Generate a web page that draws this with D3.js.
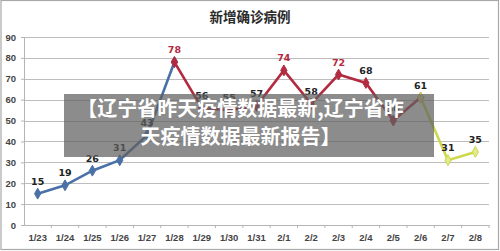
<!DOCTYPE html>
<html>
<head>
<meta charset="utf-8">
<script src="https://cdn.jsdelivr.net/npm/d3@7"></script>
<style>
  body { margin: 0; background: #fff; }
  svg { display: block; font-family: "DejaVu Sans", "Noto Sans CJK SC", sans-serif; }
</style>
</head>
<body>
<div id="chart"></div>
<script>
// chart data
var dates = ["1/23","1/24","1/25","1/26","1/27","1/28","1/29","1/30","1/31","2/1","2/2","2/3","2/4","2/5","2/6","2/7","2/8"];
var cases = [15, 19, 26, 31, 43, 78, 56, 55, 57, 74, 58, 72, 68, 50, 61, 31, 35];
var yTicks = [0, 10, 20, 30, 40, 50, 60, 70, 80, 90];
// segments: index ranges for each colored line
var segments = [
  {from: 0, to: 5, color: "#4a70a8", fill: "#4a70a8"},
  {from: 5, to: 14, color: "#b32b40", fill: "#b32b40"},
  {from: 14, to: 16, color: "#cdd84a", fill: "#e2ea8c"}
];
var redLabels = ["1/28", "2/1", "2/3"];
var title = "新增确诊病例";
var overlayLines = ["【辽宁省昨天疫情数据最新,辽宁省昨", "天疫情数据最新报告】"];

var width = 500, height = 251;
var margin = {top: 37, right: 11, bottom: 26, left: 24};

var svg = d3.select("#chart").append("svg")
  .attr("width", width)
  .attr("height", height);

// outer frame
svg.append("rect")
  .attr("x", 1).attr("y", 0.5)
  .attr("width", width - 2.5).attr("height", height - 2)
  .attr("fill", "#fff")
  .attr("stroke", "#a8a8a8")
  .attr("stroke-width", 1.2);

var x = d3.scaleBand()
  .domain(dates)
  .range([margin.left, width - margin.right]);
var y = d3.scaleLinear()
  .domain([0, 90])
  .range([height - margin.bottom, margin.top]);

// gridlines
svg.append("g").selectAll("line")
  .data(yTicks.filter(d => d > 0))
  .enter().append("line")
  .attr("x1", margin.left).attr("x2", width - margin.right)
  .attr("y1", d => Math.round(y(d)) + 0.5).attr("y2", d => Math.round(y(d)) + 0.5)
  .attr("stroke", "#bdbdbd")
  .attr("stroke-width", 1.2);

// y axis
var yAxis = svg.append("g")
  .attr("transform", "translate(" + margin.left + ",0)")
  .call(d3.axisLeft(y).tickValues(yTicks).tickSize(3).tickPadding(5));
yAxis.select(".domain").attr("stroke", "#b5b5b5");
yAxis.selectAll(".tick line").attr("stroke", "#b5b5b5");
yAxis.selectAll("text")
  .attr("font-size", "9.5px").attr("font-weight", "bold").attr("fill", "#444");

// x axis with ticks between categories
var xAxis = svg.append("g")
  .attr("transform", "translate(0," + y(0) + ")")
  .call(d3.axisBottom(x).tickSize(0).tickPadding(9));
xAxis.select(".domain").attr("stroke", "#b5b5b5");
xAxis.selectAll("text")
  .attr("font-size", "9.5px").attr("font-weight", "bold").attr("fill", "#444");
xAxis.selectAll(".sep")
  .data(dates)
  .enter().append("line")
  .attr("class", "sep")
  .attr("x1", d => x(d) + x.bandwidth()).attr("x2", d => x(d) + x.bandwidth())
  .attr("y1", 0).attr("y2", 3)
  .attr("stroke", "#b5b5b5");

// title
svg.append("text")
  .attr("x", 250).attr("y", 22)
  .attr("text-anchor", "middle")
  .attr("font-family", "Noto Sans CJK SC")
  .attr("font-size", "13.5px").attr("font-weight", "bold")
  .attr("fill", "#2a2a2a")
  .text(title);

var cx = i => x(dates[i]) + x.bandwidth() / 2;
var line = d3.line().x(d => cx(d)).y(d => y(cases[d]));

segments.forEach(function(s) {
  var idx = d3.range(s.from, s.to + 1);
  svg.append("path")
    .datum(idx)
    .attr("d", line)
    .attr("fill", "none")
    .attr("stroke", s.color)
    .attr("stroke-width", 2.6);
});
segments.forEach(function(s) {
  var idx = d3.range(s.from, s.to + 1);
  svg.append("g").selectAll("path")
    .data(idx)
    .enter().append("path")
    .attr("transform", d => "translate(" + cx(d) + "," + y(cases[d]) + ")")
    .attr("d", d3.symbol().type(d3.symbolDiamond).size(34))
    .attr("fill", s.fill)
    .attr("stroke", s.color)
    .attr("stroke-width", 1);
});

// data labels
svg.append("g").selectAll("text")
  .data(cases)
  .enter().append("text")
  .attr("x", (d, i) => cx(i))
  .attr("y", (d, i) => y(d) - 9)
  .attr("text-anchor", "middle")
  .attr("font-size", "9.5px").attr("font-weight", "bold")
  .attr("fill", (d, i) => redLabels.indexOf(dates[i]) >= 0 ? "#b32b40" : "#222")
  .text(d => d);

// overlay banner
svg.append("rect")
  .attr("x", 64).attr("y", 94)
  .attr("width", 370).attr("height", 63)
  .attr("fill", "rgba(95,95,95,0.72)");
svg.append("g").selectAll("text")
  .data(overlayLines)
  .enter().append("text")
  .attr("x", 240.5)
  .attr("y", (d, i) => 116 + i * 28)
  .attr("text-anchor", "middle")
  .attr("font-family", "Noto Sans CJK SC")
  .attr("font-size", "20px").attr("font-weight", "bold")
  .attr("fill", "#fff")
  .text(d => d);
</script>
</body>
</html>
